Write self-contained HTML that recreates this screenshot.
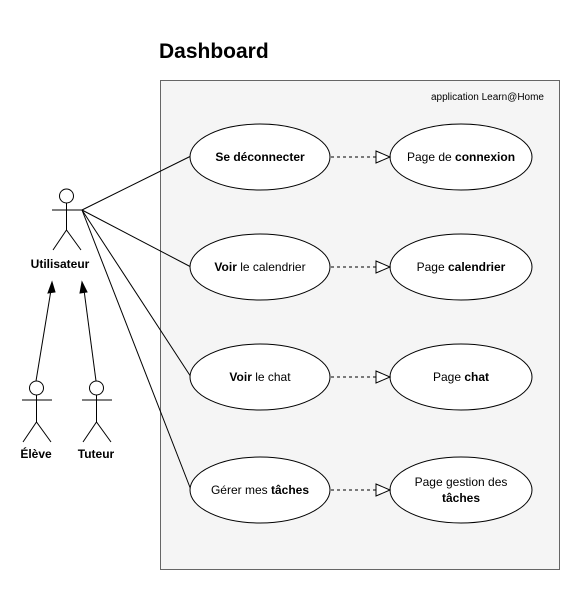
<!DOCTYPE html>
<html><head><meta charset="utf-8"><style>
body{margin:0;background:#fff}
svg{display:block}
text{font-family:"Liberation Sans",Arial,sans-serif;font-size:12px;fill:#000}
</style></head><body>
<svg width="581" height="591" viewBox="0 0 581 591">
<text x="159" y="58" style="font-size:21px;font-weight:bold">Dashboard</text>
<rect x="160.5" y="80.5" width="399" height="489" fill="#f5f5f5" stroke="#666"/>
<text x="544" y="100" text-anchor="end" style="font-size:10px">application Learn@Home</text>
<g stroke="#000" fill="none">
<line x1="82" y1="210" x2="191" y2="156"/>
<line x1="82" y1="210" x2="191" y2="267"/>
<line x1="82" y1="210" x2="191" y2="377"/>
<line x1="82" y1="210" x2="191" y2="490"/>
</g>
<g stroke="#000" fill="#fff">
<ellipse cx="260" cy="157" rx="70" ry="33"/>
<ellipse cx="260" cy="267" rx="70" ry="33"/>
<ellipse cx="260" cy="377" rx="70" ry="33"/>
<ellipse cx="260" cy="490" rx="70" ry="33"/>
<ellipse cx="461" cy="157" rx="71" ry="33"/>
<ellipse cx="461" cy="267" rx="71" ry="33"/>
<ellipse cx="461" cy="377" rx="71" ry="33"/>
<ellipse cx="461" cy="490" rx="71" ry="33"/>
</g>
<g stroke="#000" fill="#fff">
<line x1="331" y1="157" x2="376" y2="157" stroke-dasharray="3,3"/>
<polygon points="376,151 390,157 376,163"/>
<line x1="331" y1="267" x2="376" y2="267" stroke-dasharray="3,3"/>
<polygon points="376,261 390,267 376,273"/>
<line x1="331" y1="377" x2="376" y2="377" stroke-dasharray="3,3"/>
<polygon points="376,371 390,377 376,383"/>
<line x1="331" y1="490" x2="376" y2="490" stroke-dasharray="3,3"/>
<polygon points="376,484 390,490 376,496"/>
</g>
<g text-anchor="middle">
<text x="260" y="161" font-weight="bold">Se déconnecter</text>
<text x="260" y="271"><tspan font-weight="bold">Voir</tspan> le calendrier</text>
<text x="260" y="381"><tspan font-weight="bold">Voir</tspan> le chat</text>
<text x="260" y="494">Gérer mes <tspan font-weight="bold">tâches</tspan></text>
<text x="461" y="161">Page de <tspan font-weight="bold">connexion</tspan></text>
<text x="461" y="271">Page <tspan font-weight="bold">calendrier</tspan></text>
<text x="461" y="381">Page <tspan font-weight="bold">chat</tspan></text>
<text x="461" y="486">Page gestion des</text>
<text x="461" y="502" font-weight="bold">tâches</text>
</g>
<g stroke="#000" fill="#fff">
<circle cx="66.5" cy="196" r="7"/>
<path d="M66.5 203V230M52 210H82M53 250L66.5 230L81 250" fill="none"/>
<circle cx="36.5" cy="388" r="7"/>
<path d="M36.5 395V422M22 400H52M23 442L36.5 422L51 442" fill="none"/>
<circle cx="96.5" cy="388" r="7"/>
<path d="M96.5 395V422M82 400H112M83 442L96.5 422L111 442" fill="none"/>
<line x1="36" y1="381" x2="51" y2="290"/>
<line x1="96" y1="381" x2="84" y2="290"/>
</g>
<polygon points="52,282 48,293 55,292" fill="#000" stroke="#000"/>
<polygon points="82,282 80,293 87,292" fill="#000" stroke="#000"/>
<g text-anchor="middle" font-weight="bold">
<text x="60" y="268">Utilisateur</text>
<text x="36" y="458">Élève</text>
<text x="96" y="458">Tuteur</text>
</g>
</svg>
</body></html>
